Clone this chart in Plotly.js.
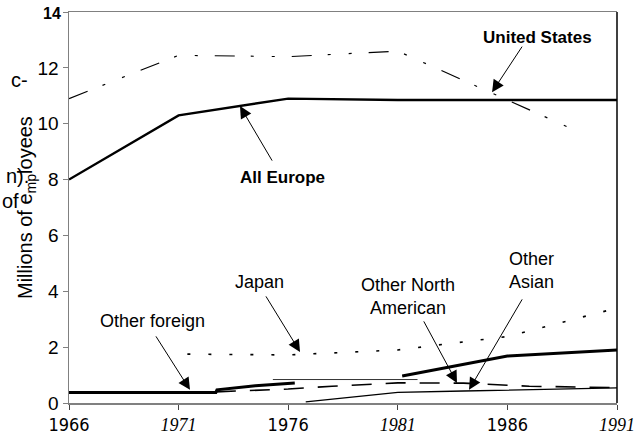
<!DOCTYPE html>
<html>
<head>
<meta charset="utf-8">
<script src="https://cdn.plot.ly/plotly-3.0.1.min.js"></script>
<style>html,body{margin:0;padding:0;background:#fff;}#chart{width:637px;height:438px;}</style>
</head>
<body>
<div id="chart"></div>
<script>
// ---- data (millions of employees) ----
const tickYears = [1966, 1971, 1976, 1981, 1986, 1991];
const tickLabels = ['1966', '1971', '1976', '1981', '1986', '1991'];
const yTicks = [0, 2, 4, 6, 8, 10, 12, 14];

const usYears = [1966, 1971, 1976, 1981, 1986, 1988.7];
const usValues = [10.9, 12.45, 12.4, 12.6, 10.85, 9.9];

const europeYears = [1966, 1971, 1976, 1981, 1986, 1991];
const europeValues = [8.0, 10.3, 10.9, 10.85, 10.85, 10.85];

const japanYears = [1971.4, 1976, 1981, 1986, 1991];
const japanValues = [1.75, 1.72, 1.9, 2.38, 3.4];

const foreignYears = [1966, 1971, 1972.7, 1972.75, 1974.5, 1976.3, 1978.5, 1981.2, 1982.9, 1986, 1991];
const foreignValues = [0.38, 0.38, 0.38, 0.47, 0.62, 0.72, null, 0.97, 1.22, 1.68, 1.9];

const northAmYears = [1972.7, 1976, 1978, 1981, 1984, 1987, 1991];
const northAmValues = [0.4, 0.5, 0.6, 0.72, 0.71, 0.6, 0.55];

const northAmFlatYears = [1975.3, 1981.9];
const northAmFlatValues = [0.84, 0.84];

const asianYears = [1976.8, 1981, 1984, 1991];
const asianValues = [0.04, 0.38, 0.43, 0.54];

// ---- traces ----
const traces = [
  {x: usYears, y: usValues, mode: 'lines', line: {color: '#000', width: 1.2, dash: '20px,16px,3px,18px,3px,17px'}},
  {x: europeYears, y: europeValues, mode: 'lines', line: {color: '#000', width: 2.4}},
  {x: japanYears, y: japanValues, mode: 'lines', line: {color: '#000', width: 1.6, dash: '3px,18px'}},
  {x: foreignYears, y: foreignValues, mode: 'lines', connectgaps: false, line: {color: '#000', width: 3}},
  {x: northAmYears, y: northAmValues, mode: 'lines', line: {color: '#000', width: 1.6, dash: '20px,14px'}},
  {x: northAmFlatYears, y: northAmFlatValues, mode: 'lines', line: {color: '#333', width: 1}},
  {x: asianYears, y: asianValues, mode: 'lines', line: {color: '#000', width: 1.3}}
];

const serif = s => '<span style="font-family:Liberation Serif"><i>' + s + '</i></span>';
const xTickText = tickLabels.map((t, i) => (i % 2 === 1 ? serif(t) : t));

const W = 548, H = 391, L = 69, T = 12;
const px = x => (x - L) / W;
const py = y => (T + H - y) / H;

const labelFont = {family: 'Liberation Sans, Arial, sans-serif', size: 18, color: '#000'};
const boldFont = {family: 'Liberation Sans, Arial, sans-serif', size: 17, color: '#000'};

function textAnn(text, x, y, font, extra) {
  return Object.assign({text: text, xref: 'paper', yref: 'paper', x: px(x), y: py(y),
    xanchor: 'center', yanchor: 'middle', showarrow: false, font: font}, extra || {});
}
function arrowAnn(year, val, ax, ay) {
  return {text: '', x: year, y: val, xref: 'x', yref: 'y', ax: ax, ay: ay, axref: 'pixel', ayref: 'pixel',
    showarrow: true, arrowhead: 2, arrowsize: 2.4, arrowwidth: 1, arrowcolor: '#000', standoff: 0, startstandoff: 0};
}

const annotations = [
  textAnn('<b>United States</b>', 537, 37, boldFont),
  arrowAnn(1985.3, 11.13, 31, -47),
  textAnn('<b>All Europe</b>', 282, 177, boldFont),
  arrowAnn(1973.8, 10.63, 33, 56),
  textAnn('Japan', 259, 282, labelFont),
  arrowAnn(1976.54, 1.83, -35, -57),
  textAnn('Other foreign', 152, 321, labelFont),
  arrowAnn(1971.52, 0.47, -35, -55),
  textAnn('Other North<br>American', 408, 296, labelFont, {align: 'center'}),
  arrowAnn(1983.7, 0.72, -34, -63),
  textAnn('Other<br>Asian', 531, 270, labelFont, {align: 'center'}),
  arrowAnn(1984.25, 0.47, 54, -92),
  // y-axis title and stray fragments at the left edge
  textAnn('Millions of e<sub>mp</sub>loyees', 26, 208, {family: 'Liberation Sans, Arial, sans-serif', size: 20, color: '#000'}, {textangle: -90}),
  textAnn('c-', 30, 80, {family: 'Liberation Sans, Arial, sans-serif', size: 20, color: '#000'}, {xanchor: 'right'}),
  textAnn('n).', 31, 176, {family: 'Liberation Sans, Arial, sans-serif', size: 20, color: '#000'}, {xanchor: 'right'}),
  textAnn('of', 21, 201, {family: 'Liberation Sans, Arial, sans-serif', size: 20, color: '#000'}, {xanchor: 'right'}),
  textAnn('<b>14</b>', 63, 13, {family: 'Liberation Sans, Arial, sans-serif', size: 16, color: '#000'}, {xanchor: 'right'})
];

const layout = {
  width: 637, height: 438,
  margin: {l: 69, r: 20, t: 12, b: 35, pad: 0},
  paper_bgcolor: '#fff', plot_bgcolor: '#fff',
  showlegend: false,
  xaxis: {
    range: [1966, 1991], tickmode: 'array', tickvals: tickYears, ticktext: xTickText,
    ticks: 'outside', ticklen: 5, tickcolor: '#444', tickwidth: 1,
    showline: true, linecolor: '#808080', linewidth: 1.5, mirror: true,
    showgrid: false, zeroline: false, ticklabelstandoff: 0,
    tickfont: {family: 'Liberation Sans Narrow, DejaVu Sans Condensed, sans-serif', size: 18, color: '#000'}
  },
  yaxis: {
    range: [0, 14], tickmode: 'array', tickvals: yTicks,
    ticktext: yTicks.map(v => (v === 14 ? '' : String(v))),
    ticks: 'outside', ticklen: 5, tickcolor: '#808080', tickwidth: 1,
    showline: true, linecolor: '#808080', linewidth: 1.5,
    showgrid: false, zeroline: false,
    tickfont: {family: 'Liberation Sans, Arial, sans-serif', size: 19, color: '#000'}
  },
  shapes: [
    {type: 'line', xref: 'paper', yref: 'paper', x0: 1, x1: 1, y0: 0, y1: 1, line: {color: '#000', width: 1.5}}
  ],
  annotations: annotations
};

Plotly.newPlot('chart', traces, layout, {staticPlot: true, displayModeBar: false});
</script>
</body>
</html>
